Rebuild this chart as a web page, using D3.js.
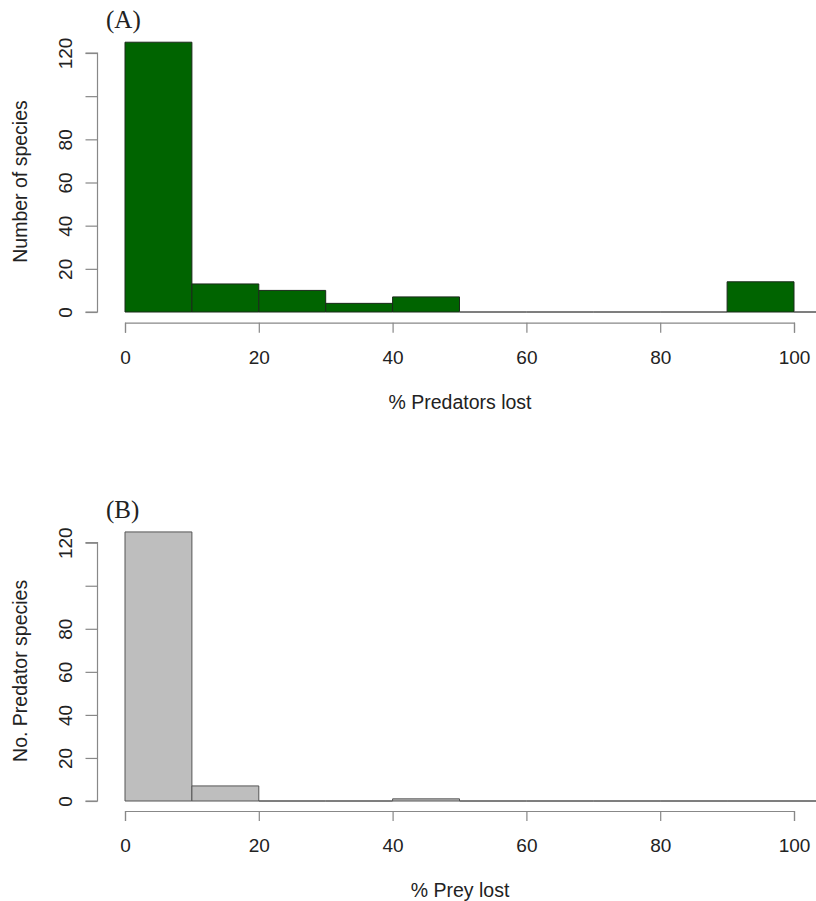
<!DOCTYPE html>
<html>
<head>
<meta charset="utf-8">
<script src="https://cdn.jsdelivr.net/npm/d3@7"></script>
<style>
body { margin: 0; background: #fff; }
svg text { font-family: Arial, "Liberation Sans", sans-serif; fill: #222; }
</style>
</head>
<body>
<script>
// histogram bins (breaks every 10 %), counts
var breaks = [0, 10, 20, 30, 40, 50, 60, 70, 80, 90, 100, 110];
var predatorCounts = [125, 13, 10, 4, 7, 0, 0, 0, 0, 14, 0];
var preyCounts = [125, 7, 0, 0, 1, 0, 0, 0, 0, 0, 0];
var xTicks = [0, 20, 40, 60, 80, 100];
var yTicks = [0, 20, 40, 60, 80, 100, 120];
var yTickLabels = ["0", "20", "40", "60", "80", "", "120"];

var width = 816, height = 901;

var svg = d3.select('body').append('svg')
    .attr('width', width)
    .attr('height', height);

var x = d3.scaleLinear()
    .domain([0, 100])
    .range([125, 794]);

function panel(counts, opts) {
    var y = d3.scaleLinear()
        .domain([0, 120])
        .range([opts.bottom, opts.top]);

    var g = svg.append('g');

    var bins = counts.map(function(c, i) {
        return { x0: breaks[i], x1: breaks[i + 1], n: c };
    });

    // bars (zero bins are drawn as a flat line, like R's hist)
    g.selectAll('path.bar')
        .data(bins)
        .enter().append('path')
        .attr('class', 'bar')
        .attr('d', function(d) {
            return 'M' + x(d.x0) + ',' + y(0) + 'V' + y(d.n) +
                'H' + x(d.x1) + 'V' + y(0) + 'Z';
        })
        .attr('fill', opts.fill)
        .attr('stroke', function(d) { return d.n ? opts.stroke : '#555'; })
        .attr('stroke-width', 1);

    // x axis
    var xAxis = d3.axisBottom(x)
        .tickValues(xTicks)
        .tickSize(10)
        .tickPadding(18)
        .tickFormat(d3.format('d'));
    var gx = g.append('g')
        .attr('transform', 'translate(0,' + opts.xAxisY + ')')
        .call(xAxis);
    gx.selectAll('path, line').attr('stroke', '#888').attr('stroke-width', 1.2);
    gx.selectAll('text').attr('font-size', 19).attr('fill', '#222')
        .attr('font-family', 'Arial, "Liberation Sans", sans-serif');

    // y axis
    var yAxis = d3.axisLeft(y)
        .tickValues(yTicks)
        .tickSize(12)
        .tickFormat(function(d, i) { return yTickLabels[i]; });
    var gy = g.append('g')
        .attr('transform', 'translate(97.5,0)')
        .call(yAxis);
    gy.select('.domain').attr('d', 'M-12,' + y(120) + 'H0V' + y(0) + 'H-12');
    gy.selectAll('path, line').attr('stroke', '#888').attr('stroke-width', 1.2);
    gy.selectAll('text')
        .attr('font-size', 19).attr('fill', '#222')
        .attr('font-family', 'Arial, "Liberation Sans", sans-serif')
        .attr('x', null).attr('dy', null)
        .attr('text-anchor', 'middle')
        .attr('transform', 'translate(-25.5,0) rotate(-90)');

    // axis titles
    g.append('text')
        .attr('x', 460)
        .attr('y', opts.xLabelY)
        .attr('text-anchor', 'middle')
        .attr('font-size', 19.5)
        .text(opts.xLabel);

    g.append('text')
        .attr('transform', 'translate(27,' + ((y(0) + y(120)) / 2 - 1) + ') rotate(-90)')
        .attr('text-anchor', 'middle')
        .attr('font-size', 19.5)
        .text(opts.yLabel);

    // panel letter
    g.append('text')
        .attr('x', 106)
        .attr('y', opts.letterY)
        .attr('font-size', 25)
        .style('font-family', '"Liberation Serif", "Times New Roman", serif')
        .text(opts.letter);
}

panel(predatorCounts, {
    top: 53, bottom: 312, xAxisY: 322.7, xLabelY: 409, letterY: 28,
    fill: '#006400', stroke: '#1a2a1a',
    xLabel: '% Predators lost', yLabel: 'Number of species', letter: '(A)'
});

panel(preyCounts, {
    top: 542.7, bottom: 801, xAxisY: 811, xLabelY: 897, letterY: 518,
    fill: '#bebebe', stroke: '#555',
    xLabel: '% Prey lost', yLabel: 'No. Predator species', letter: '(B)'
});
</script>
</body>
</html>
